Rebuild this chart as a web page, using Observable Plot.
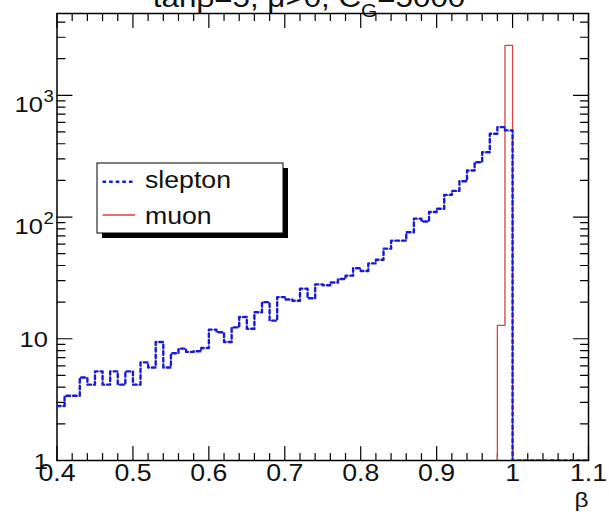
<!DOCTYPE html>
<html><head><meta charset="utf-8">
<script src="https://cdn.jsdelivr.net/npm/d3@7"></script>
<script src="https://cdn.jsdelivr.net/npm/@observablehq/plot@0.6"></script>
<style>html,body{margin:0;padding:0;background:#fff;overflow:hidden;} svg{display:block}</style>
</head><body><div id="chart"></div>
<script>
// ---- data ----
const sleptonBinLow = [0.40,0.41,0.42,0.43,0.44,0.45,0.46,0.47,0.48,0.49,0.50,0.51,0.52,0.53,0.54,0.55,0.56,0.57,0.58,0.59,0.60,0.61,0.62,0.63,0.64,0.65,0.66,0.67,0.68,0.69,0.70,0.71,0.72,0.73,0.74,0.75,0.76,0.77,0.78,0.79,0.80,0.81,0.82,0.83,0.84,0.85,0.86,0.87,0.88,0.89,0.90,0.91,0.92,0.93,0.94,0.95,0.96,0.97,0.98,0.99,1.00,1.01,1.02,1.03,1.04,1.05,1.06,1.07,1.08,1.09];
const sleptonCounts = [2.8,3.4,3.4,4.8,4.2,5.4,4.2,5.4,4.2,5.4,
  4.2,6.4,5.8,9.4,5.8,7.6,8.3,7.8,7.9,8.4,
  11.9,11.3,9.4,12.4,15.1,12.1,16.5,20,14.1,22,
  21,20.5,25.8,21.5,28,27.5,29,31,33,38,
  36,41.6,44.6,55,64,64,75,97,92,110,
  117,152,164,197,241,282,341,483,548,515,
  0,0,0,0,0,0,0,0,0,0];
const muonBinLow = [0.98, 0.99];
const muonCounts = [12.9, 2570];
const binWidth = 0.01;

const xMajorTicks = [0.4,0.5,0.6,0.7,0.8,0.9,1.0,1.1];
const xTickLabels = ["0.4","0.5","0.6","0.7","0.8","0.9","1","1.1"];
const xMinorTicks = [0.42,0.44,0.46,0.48,0.52,0.54,0.56,0.58,0.62,0.64,0.66,0.68,0.72,0.74,0.76,0.78,0.82,0.84,0.86,0.88,0.92,0.94,0.96,0.98,1.02,1.04,1.06,1.08];
const yMajorTicks = [1,10,100,1000];
const yTickBase = ["1","10","10","10"];
const yTickExp = ["","","2","3"];
const yMinorTicks = [2,3,4,5,6,7,8,9,20,30,40,50,60,70,80,90,200,300,400,500,600,700,800,900,2000,3000,4000];
const seriesNames = ["slepton","muon"];
const titleParts = ["tan\u03b2=5, \u03bc>0, C", "G", "=5000"];
const xTitle = "\u03b2";

// ---- build ----
const yMin = 1;
const FONT = "'Liberation Sans', Arial, Helvetica, sans-serif";
const BLUE = "#1a1ad6", RED = "#d04444";
const DASH = "3.6,3";

function stepPoints(lows, counts) {
  const pts = lows.map((x, i) => ({x, y: Math.max(counts[i], yMin)}));
  pts.push({x: lows[lows.length - 1] + binWidth, y: yMin});
  return pts;
}
const sleptonPts = stepPoints(sleptonBinLow, sleptonCounts);
const muonPts = [{x: muonBinLow[0], y: yMin}, ...stepPoints(muonBinLow, muonCounts)];

const tickShape = {draw(ctx, l) { ctx.moveTo(0, 0); ctx.lineTo(0, -l); }};
function ticks(data, ch, anchor, rot, len) {
  const o = {frameAnchor: anchor, rotate: rot, length: len, anchor: "start", shape: tickShape, stroke: "black", strokeWidth: 1.2};
  o[ch] = d => d;
  return Plot.vector(data, o);
}

const plot = Plot.plot({
  width: 609, height: 516,
  marginLeft: 56.5, marginRight: 21, marginTop: 13, marginBottom: 56,
  x: {domain: [0.4, 1.1], axis: null},
  y: {type: "log", domain: [1, 4700], axis: null},
  style: {fontFamily: FONT, background: "white", color: "black"},
  marks: [
    ticks(xMajorTicks, "x", "bottom", 0, 14),
    ticks(xMinorTicks, "x", "bottom", 0, 7),
    ticks(xMajorTicks, "x", "top", 180, 14),
    ticks(xMinorTicks, "x", "top", 180, 7),
    ticks(yMajorTicks, "y", "left", 90, 15),
    ticks(yMinorTicks, "y", "left", 90, 8),
    ticks(yMajorTicks, "y", "right", -90, 15),
    ticks(yMinorTicks, "y", "right", -90, 8),
    Plot.frame({stroke: "black", strokeWidth: 1.5}),
    Plot.line(muonPts, {x: "x", y: "y", curve: "step-after", stroke: RED, strokeWidth: 1.3, clip: true}),
    Plot.line(sleptonPts, {x: "x", y: "y", curve: "step-after", stroke: BLUE, strokeWidth: 2.4, strokeDasharray: DASH, clip: true}),
    Plot.text(xMajorTicks, {x: d => d, text: (d, i) => xTickLabels[i], frameAnchor: "bottom", dy: 20, fontSize: 23, fill: "#111"}),
    Plot.text(yMajorTicks.filter((d, i) => !yTickExp[i]), {y: d => d, text: (d) => yTickBase[yMajorTicks.indexOf(d)], frameAnchor: "left", textAnchor: "end", dx: -9, dy: 1, fontSize: 22, fill: "#111"}),
    Plot.text(yMajorTicks.filter((d, i) => yTickExp[i]), {y: d => d, text: (d) => yTickBase[yMajorTicks.indexOf(d)], frameAnchor: "left", textAnchor: "end", dx: -14, dy: 9.5, fontSize: 22, fill: "#111"}),
    Plot.text(yMajorTicks.filter((d, i) => yTickExp[i]), {y: d => d, text: (d) => yTickExp[yMajorTicks.indexOf(d)], frameAnchor: "left", textAnchor: "start", dx: -13.5, dy: 2, fontSize: 16, fill: "#111"}),
    Plot.text([xTitle], {text: d => d, frameAnchor: "bottom-right", textAnchor: "end", dx: 0, dy: 46, fontSize: 21, fill: "#111"})
  ]
});

const svg = d3.select(plot);
// horizontal stretch of text like the reference
svg.selectAll("text").each(function() {
  const t = this.getAttribute("transform");
  if (t) this.setAttribute("transform", t + " scale(1.16,1)");
});

// title (cut off at top, as in the reference)
const title = svg.append("text")
  .attr("transform", "translate(309,6.5) scale(1.16,1)")
  .attr("text-anchor", "middle")
  .attr("font-family", FONT).attr("font-size", 27).attr("fill", "#111");
title.append("tspan").text(titleParts[0]);
title.append("tspan").attr("font-size", 18).attr("dy", 10.5).text(titleParts[1]);
title.append("tspan").attr("dy", -10.5).text(titleParts[2]);

// legend
const lg = svg.append("g");
lg.append("rect").attr("x", 102).attr("y", 168).attr("width", 186).attr("height", 70).attr("fill", "black");
lg.append("rect").attr("x", 97).attr("y", 163).attr("width", 186).attr("height", 70).attr("fill", "white").attr("stroke", "black").attr("stroke-width", 1);
const entries = [
  {name: seriesNames[0], stroke: BLUE, width: 2.4, dash: DASH, ly: 181.7, ty: 187.5},
  {name: seriesNames[1], stroke: RED, width: 1.3, dash: null, ly: 215, ty: 224}
];
entries.forEach(e => {
  lg.append("line").attr("x1", 102.5).attr("x2", 135).attr("y1", e.ly).attr("y2", e.ly)
    .attr("stroke", e.stroke).attr("stroke-width", e.width).attr("stroke-dasharray", e.dash);
  lg.append("text").attr("transform", `translate(145,${e.ty}) scale(1.16,1)`)
    .attr("text-anchor", "start")
    .attr("font-family", FONT).attr("font-size", 23).attr("fill", "#111").text(e.name);
});

document.getElementById("chart").appendChild(plot);
</script>
</body></html>
